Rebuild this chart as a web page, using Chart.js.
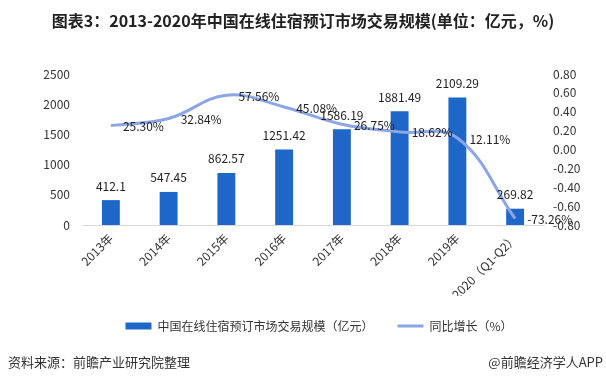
<!DOCTYPE html>
<html><head><meta charset="utf-8">
<script src="https://cdn.jsdelivr.net/npm/chart.js@4/dist/chart.umd.min.js"></script>
<style>
html,body{margin:0;padding:0;background:#fff;}
#wrap{position:relative;width:606px;height:383px;overflow:hidden;font-family:"Noto Sans CJK SC",sans-serif;}
#title{position:absolute;left:0;top:9px;width:606px;text-align:center;font-size:16px;font-weight:bold;color:#222;line-height:22px;}
#src{position:absolute;left:8px;top:353px;font-size:13px;color:#333;line-height:18px;}
#app{position:absolute;right:3px;top:353px;font-size:13px;color:#333;line-height:18px;}
canvas{position:absolute;left:0;top:0;}
</style></head>
<body><div id="wrap">
<canvas id="c" width="606" height="383"></canvas>
<div id="title">图表3：2013-2020年中国在线住宿预订市场交易规模(单位：亿元，%)</div>
<div id="src">资料来源：前瞻产业研究院整理</div>
<div id="app">@前瞻经济学人APP</div>
</div>
<script>
const categories = ["2013年","2014年","2015年","2016年","2017年","2018年","2019年","2020（Q1-Q2）"];
const marketSize = [412.1, 547.45, 862.57, 1251.42, 1586.19, 1881.49, 2109.29, 269.82];
const growthRate = [0.2530, 0.3284, 0.5756, 0.4508, 0.2675, 0.1862, 0.1211, -0.7326];
const growthLabels = ["25.30%","32.84%","57.56%","45.08%","26.75%","18.62%","12.11%","-73.26%"];
const seriesNames = ["中国在线住宿预订市场交易规模（亿元）", "同比增长（%）"];
const leftTicks = [0, 500, 1000, 1500, 2000, 2500];
const rightTicks = [-0.8, -0.6, -0.4, -0.2, 0, 0.2, 0.4, 0.6, 0.8];

const barColor = '#1F66C9';
const lineColor = '#8AA6E6';
const FONT = '"Noto Sans CJK SC", sans-serif';
const txt = '#333333';

const labelPlugin = {
  id: 'valueLabels',
  afterLayout(chart) {
    if (chart.legend) { chart.legend.left += 16; chart.legend.right += 16; }
  },
  afterDatasetsDraw(chart) {
    const ctx = chart.ctx;
    ctx.save();
    ctx.font = '12px ' + FONT;
    ctx.fillStyle = '#222';
    const barMeta = chart.getDatasetMeta(0);
    ctx.textAlign = 'center';
    ctx.textBaseline = 'middle';
    barMeta.data.forEach((el, i) => {
      ctx.fillText(String(marketSize[i]), el.x, el.y - 14);
    });
    const lineMeta = chart.getDatasetMeta(1);
    ctx.textAlign = 'left';
    lineMeta.data.forEach((el, i) => {
      ctx.fillText(growthLabels[i], el.x + 12, el.y + 1);
    });
    ctx.restore();
  }
};

new Chart(document.getElementById('c'), {
  data: {
    labels: categories,
    datasets: [
      { type: 'bar', label: seriesNames[0], data: marketSize, backgroundColor: barColor,
        yAxisID: 'y', barPercentage: 0.31, categoryPercentage: 1, order: 2 },
      { type: 'line', label: seriesNames[1], data: growthRate, borderColor: lineColor,
        backgroundColor: lineColor, borderWidth: 3, pointRadius: 0, tension: 0.4,
        yAxisID: 'y1', order: 1 }
    ]
  },
  options: {
    responsive: false,
    animation: false,
    layout: { padding: { top: 74, left: 0, right: 0, bottom: 41 } },
    plugins: {
      title: { display: false },
      tooltip: { enabled: false },
      legend: {
        position: 'bottom',
        labels: {
          usePointStyle: true,
          pointStyleWidth: 26,
          boxHeight: 7,
          padding: 24,
          color: txt,
          font: { size: 12, family: FONT },
          generateLabels: () => [
            { text: seriesNames[0], fillStyle: barColor, strokeStyle: barColor, lineWidth: 0, pointStyle: 'rect', datasetIndex: 0, hidden: false, fontColor: txt },
            { text: seriesNames[1], fillStyle: lineColor, strokeStyle: lineColor, lineWidth: 3, pointStyle: 'line', datasetIndex: 1, hidden: false, fontColor: txt }
          ]
        }
      }
    },
    scales: {
      x: {
        grid: { display: false, drawTicks: false },
        border: { display: true, color: '#D9D9D9', width: 1 },
        ticks: { minRotation: 45, maxRotation: 45, color: txt, font: { size: 12, family: FONT }, padding: 6 },
        afterFit: s => { s.height = 71; }
      },
      y: {
        position: 'left', min: 0, max: 2500,
        grid: { display: false, drawTicks: false },
        border: { display: false },
        afterBuildTicks: s => { s.ticks = leftTicks.map(v => ({ value: v })); },
        ticks: { color: txt, font: { size: 12, family: FONT }, padding: 12, callback: v => String(v) },
        afterFit: s => { s.width = 82; }
      },
      y1: {
        position: 'right', min: -0.8, max: 0.8,
        grid: { display: false, drawTicks: false },
        border: { display: false },
        afterBuildTicks: s => { s.ticks = rightTicks.map(v => ({ value: v })); },
        ticks: { color: txt, font: { size: 12, family: FONT }, padding: 9, callback: v => Number(v).toFixed(2) },
        afterFit: s => { s.width = 62; }
      }
    }
  },
  plugins: [labelPlugin]
});
</script>
</body></html>
